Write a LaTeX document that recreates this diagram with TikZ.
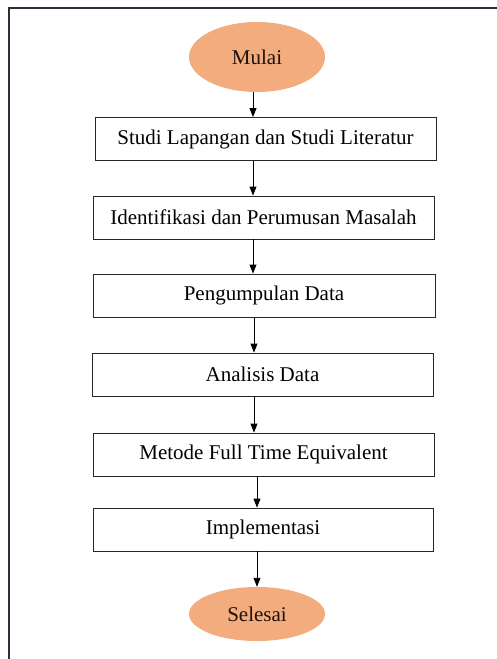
\documentclass[tikz,border=0pt]{standalone}
\usepackage{fontspec}
\setmainfont{Liberation Serif}
\usetikzlibrary{shapes.geometric,arrows.meta}
\definecolor{frame}{HTML}{2B2E3B}
\definecolor{peach}{HTML}{F2AC7D}
\tikzset{
  x=1pt,y=-1pt,
  stepbox/.style={draw=black!85,line width=0.9pt,fill=white,minimum height=43pt,inner sep=0pt,font=\fontsize{21}{24}\selectfont},
  term/.style={ellipse,fill=peach,draw=none,minimum width=136pt,inner sep=0pt,font=\fontsize{21}{24}\selectfont,text=black!85!brown},
  flow/.style={draw=black,line width=0.9pt,-{Triangle[width=7pt,length=9pt]}}
}
\begin{document}
\begin{tikzpicture}
\useasboundingbox (0,0) rectangle (497,659);
\fill[white] (0,0) rectangle (497,659);
\draw[frame,line width=2.8pt] (9,659) -- (9,8) -- (497,8);
\node[term,minimum height=70pt] (start) at (257,57) {Mulai};
\node[stepbox,minimum width=341pt] (b1) at (265.5,139) {Studi Lapangan dan Studi Literatur};
\node[stepbox,minimum width=341pt] (b2) at (263.5,217.5) {Identifikasi dan Perumusan Masalah};
\node[stepbox,minimum width=342pt] (b3) at (264,295.5) {Pengumpulan Data};
\node[stepbox,minimum width=341pt] (b4) at (262.5,374.5) {Analisis Data};
\node[stepbox,minimum width=341pt] (b5) at (263.5,454.5) {Metode Full Time Equivalent};
\node[stepbox,minimum width=340pt] (b6) at (263,529.5) {Implementasi};
\node[term,minimum height=54pt] (end) at (257,614) {Selesai};
\coordinate (ax1) at (253,0);
\coordinate (ax2) at (254,0);
\coordinate (ax3) at (257,0);
\draw[flow] (start.south -| ax1) -- (b1.north -| ax1);
\draw[flow] (b1.south -| ax1) -- (b2.north -| ax1);
\draw[flow] (b2.south -| ax1) -- (b3.north -| ax1);
\draw[flow] (b3.south -| ax2) -- (b4.north -| ax2);
\draw[flow] (b4.south -| ax2) -- (b5.north -| ax2);
\draw[flow] (b5.south -| ax3) -- (b6.north -| ax3);
\draw[flow] (b6.south -| ax3) -- (end.north -| ax3);
\end{tikzpicture}
\end{document}
